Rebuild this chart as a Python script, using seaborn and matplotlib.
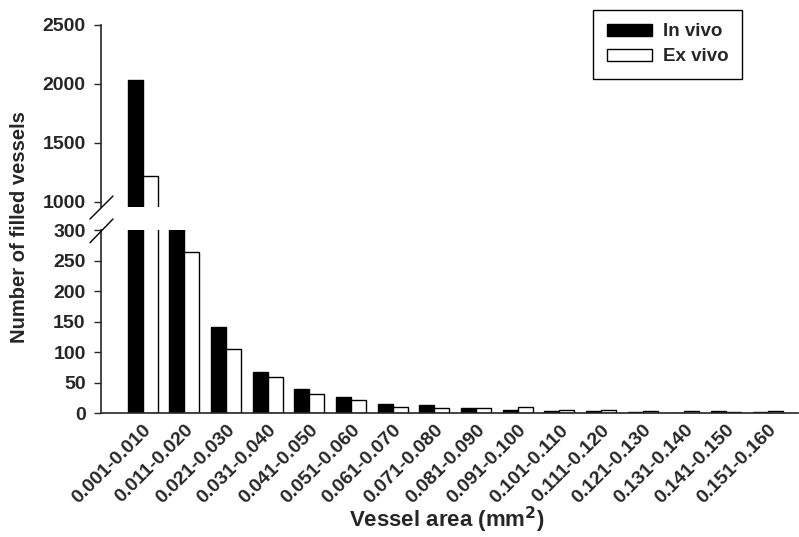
import pandas as pd
import seaborn as sns
import matplotlib.pyplot as plt
from matplotlib.lines import Line2D

# Données
areas = ['0.001-0.010', '0.011-0.020', '0.021-0.030', '0.031-0.040',
         '0.041-0.050', '0.051-0.060', '0.061-0.070', '0.071-0.080',
         '0.081-0.090', '0.091-0.100', '0.101-0.110', '0.111-0.120',
         '0.121-0.130', '0.131-0.140', '0.141-0.150', '0.151-0.160']
in_vivo = [2035, 520, 141, 68, 39, 27, 16, 13, 8, 6, 4, 3, 2, 0, 3, 2]
ex_vivo = [1215, 264, 105, 59, 31, 21, 11, 9, 8, 11, 5, 5, 3, 3, 2, 3]
groups = ['In vivo', 'Ex vivo']

df = pd.DataFrame({
    'area': areas * 2,
    'count': in_vivo + ex_vivo,
    'group': ['In vivo'] * len(areas) + ['Ex vivo'] * len(areas),
})

sns.set_theme(style='ticks')
plt.rcParams['font.family'] = ['Liberation Sans', 'DejaVu Sans']
plt.rcParams['font.weight'] = 'bold'

W, H = 799, 537
fig = plt.figure(figsize=(W / 100, H / 100), dpi=100)
left = 101 / W
width = 1 - left - 0.001
ax_top = fig.add_axes([left, 1 - 207 / H, width, (207 - 24.7) / H])
ax_bot = fig.add_axes([left, 1 - 413.3 / H, width, (413.3 - 230) / H])

palette = {'In vivo': 'black', 'Ex vivo': 'white'}
for ax in (ax_top, ax_bot):
    sns.barplot(data=df, x='area', y='count', hue='group', hue_order=groups,
                palette=palette, edgecolor='black', linewidth=1, width=0.72,
                saturation=1, ax=ax)
    ax.set_xlim(-1.0, 15.73)
    ax.set_xlabel('')
    ax.set_ylabel('')
    ax.tick_params(axis='y', length=5, width=1, labelsize=14, pad=6)
    ax.spines['left'].set_linewidth(1.2)
    ax.spines['bottom'].set_linewidth(1.2)

# partie haute
ax_top.set_ylim(955, 2500)
ax_top.set_yticks([1000, 1500, 2000, 2500])
ax_top.set_yticklabels(['1000', '1500', '2000', '2500'], fontweight='bold')
sns.despine(ax=ax_top, bottom=True)
ax_top.tick_params(axis='x', bottom=False, labelbottom=False)
handles, labels = ax_top.get_legend_handles_labels()
ax_top.legend(handles, labels, loc='upper right',
              bbox_to_anchor=(742 / W, 1 - 10 / H), bbox_transform=fig.transFigure,
              borderaxespad=0, frameon=True, fancybox=False, edgecolor='black',
              framealpha=1, prop={'weight': 'bold', 'size': 13.5},
              handlelength=2.4, handleheight=0.59, borderpad=0.72,
              labelspacing=0.42, handletextpad=0.6)
ax_top.get_legend().get_frame().set_linewidth(1)

# partie basse
ax_bot.set_ylim(0, 300)
ax_bot.set_yticks(range(0, 301, 50))
ax_bot.set_yticklabels([str(v) for v in range(0, 301, 50)], fontweight='bold')
sns.despine(ax=ax_bot)
ax_bot.legend_.remove()
ax_bot.tick_params(axis='x', length=0, pad=6)
ax_bot.set_xticks(range(len(areas)))
ax_bot.set_xticklabels(areas, rotation=45, ha='right', rotation_mode='anchor',
                       fontsize=14, fontweight='bold')

# marques de coupure
for y0, y1 in [(219, 196), (242.7, 219)]:
    fig.add_artist(Line2D([90 / W, 113 / W], [1 - y0 / H, 1 - y1 / H],
                          color='black', lw=1, transform=fig.transFigure))

fig.text(20 / W, 1 - 227 / H, 'Number of filled vessels', rotation=90,
         ha='center', va='center', fontsize=14.5, fontweight='bold')
fig.text(447 / W, 1 - 520 / H, r'Vessel area (mm$^\mathbf{2}$)', ha='center',
         va='center', fontsize=16, fontweight='bold')

fig.savefig('out.png', dpi=100)
